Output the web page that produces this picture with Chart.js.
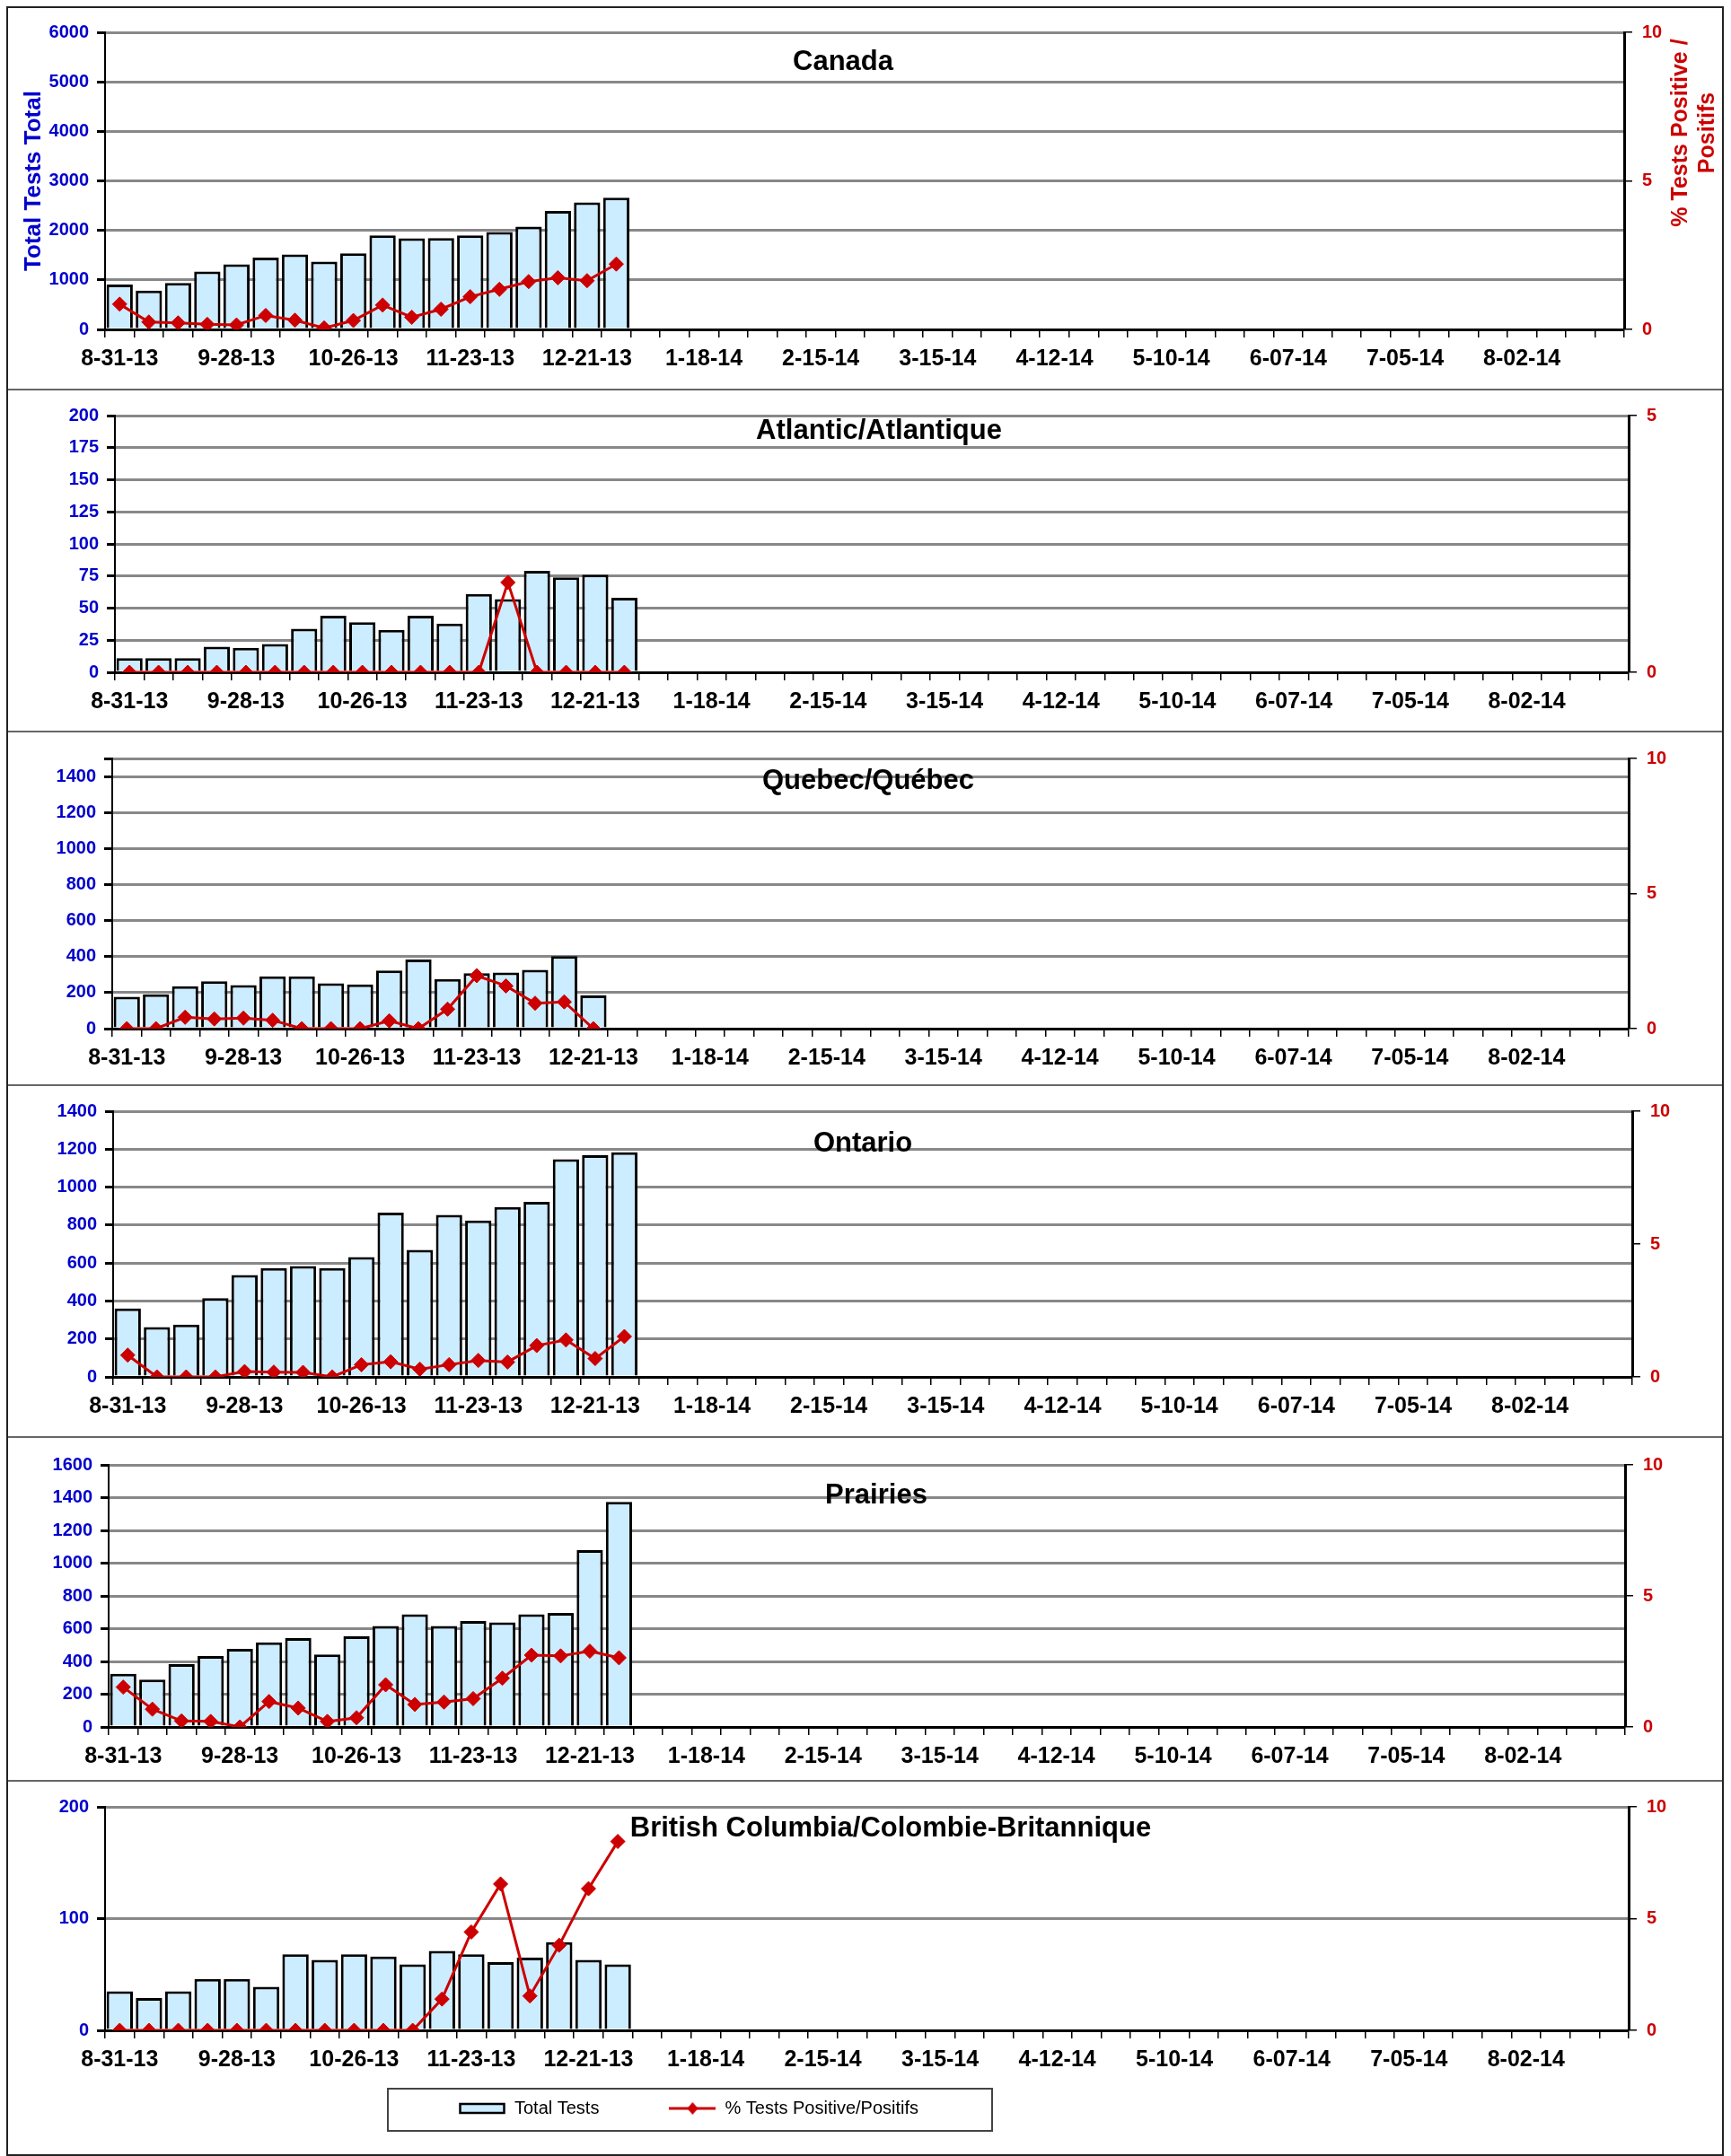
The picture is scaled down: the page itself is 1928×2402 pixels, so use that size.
<!DOCTYPE html>
<html>
<head>
<meta charset="utf-8">
<title>Total tests and % positive by region</title>
<script src="https://cdn.jsdelivr.net/npm/chart.js"></script>
<style>
body { margin: 0; background: #fff; }
#page { position: relative; width: 1928px; height: 2402px; overflow: hidden; }
#page canvas { position: absolute; }
.frame { position: absolute; left: 7px; top: 7px; width: 1909px; height: 2391px; border: 2px solid #222; }
.sep { position: absolute; left: 9px; width: 1909px; height: 0; border-top: 2px solid #666; }
#legendBox { position: absolute; left: 431px; top: 2326px; width: 671px; height: 45px; border: 2px solid #444; }
</style>
</head>
<body>
<div id="page">
	<div class="frame"></div>
	<div id="legendBox"></div>
</div>
<script>

// week ending dates (x categories)
var weeks = ["8-31-13", "9-07-13", "9-14-13", "9-21-13", "9-28-13", "10-05-13", "10-12-13", "10-19-13",
	"10-26-13", "11-02-13", "11-09-13", "11-16-13", "11-23-13", "11-30-13", "12-07-13", "12-14-13",
	"12-21-13", "12-28-13", "1-04-14", "1-11-14", "1-18-14", "1-25-14", "2-01-14", "2-08-14",
	"2-15-14", "2-22-14", "3-01-14", "3-08-14", "3-15-14", "3-22-14", "3-29-14", "4-05-14",
	"4-12-14", "4-19-14", "4-26-14", "5-03-14", "5-10-14", "5-17-14", "5-24-14", "5-31-14",
	"6-07-14", "6-14-14", "6-21-14", "6-28-14", "7-05-14", "7-12-14", "7-19-14", "7-26-14",
	"8-02-14", "8-09-14", "8-16-14", "8-23-14"];

var canadaTotal = [905, 785, 940, 1170, 1315, 1450, 1515, 1370, 1535, 1900, 1840, 1845, 1900, 1965, 2075, 2395, 2565, 2660];
var canadaPct = [0.85, 0.25, 0.22, 0.17, 0.15, 0.47, 0.31, 0.05, 0.30, 0.82, 0.41, 0.68, 1.10, 1.35, 1.61, 1.74, 1.64, 2.20];

var atlanticTotal = [11, 11, 11, 20, 19, 22, 34, 44, 39, 33, 44, 38, 61, 57, 79, 74, 76, 58];
var atlanticPct = [0, 0, 0, 0, 0, 0, 0, 0, 0, 0, 0, 0, 0, 1.75, 0, 0, 0, 0];

var quebecTotal = [177, 190, 235, 263, 242, 290, 290, 252, 245, 323, 384, 275, 308, 311, 326, 403, 184];
var quebecPct = [0, 0, 0.42, 0.36, 0.39, 0.31, 0, 0, 0, 0.29, 0, 0.72, 1.96, 1.58, 0.94, 0.99, 0];

var ontarioTotal = [361, 262, 275, 415, 537, 574, 584, 573, 631, 866, 669, 854, 824, 895, 922, 1147, 1168, 1184];
var ontarioPct = [0.82, 0, 0, 0, 0.20, 0.18, 0.17, 0, 0.46, 0.57, 0.29, 0.46, 0.62, 0.56, 1.18, 1.39, 0.69, 1.52];

var prairiesTotal = [325, 289, 384, 433, 477, 517, 542, 442, 553, 616, 687, 616, 647, 639, 687, 696, 1079, 1374];
var prairiesPct = [1.52, 0.68, 0.23, 0.21, 0, 0.97, 0.72, 0.21, 0.35, 1.61, 0.86, 0.95, 1.08, 1.86, 2.74, 2.71, 2.89, 2.64];

var bcTotal = [35, 29, 35, 46, 46, 39, 68, 63, 68, 66, 59, 71, 68, 61, 65, 79, 63, 59];
var bcPct = [0, 0, 0, 0, 0, 0, 0, 0, 0, 0, 0, 1.40, 4.40, 6.55, 1.54, 3.81, 6.34, 8.45];

var barLabel = "Total Tests";
var lineLabel = "% Tests Positive/Positifs";

var BLUE = "#0000CC";
var RED = "#CC0000";
var BAR_FILL = "#CCECFF";
var FONT = '"Liberation Sans", Arial, sans-serif';

Chart.defaults.font.family = FONT;

// panel layout (page pixels)
var panels = [
	{ title: "Canada", total: canadaTotal, pct: canadaPct, leftMax: 6000, leftStep: 1000, rightMax: 10,
		top: 7, bottom: 434, plotTop: 36, plotBottom: 367, plotLeft: 117, plotRight: 1809, titleX: 939, titleY: 69,
		leftTitle: "Total Tests Total", rightTitle: ["% Tests Positive /", "Positifs"] },
	{ title: "Atlantic/Atlantique", total: atlanticTotal, pct: atlanticPct, leftMax: 200, leftStep: 25, rightMax: 5,
		top: 434, bottom: 815, plotTop: 463, plotBottom: 749, plotLeft: 128, plotRight: 1814, titleX: 979, titleY: 480 },
	{ title: "Quebec/Québec", total: quebecTotal, pct: quebecPct, leftMax: 1500, leftStep: 200, rightMax: 10,
		top: 815, bottom: 1209, plotTop: 845, plotBottom: 1146, plotLeft: 125, plotRight: 1814, titleX: 967, titleY: 870 },
	{ title: "Ontario", total: ontarioTotal, pct: ontarioPct, leftMax: 1400, leftStep: 200, rightMax: 10,
		top: 1209, bottom: 1601, plotTop: 1238, plotBottom: 1534, plotLeft: 126, plotRight: 1818, titleX: 961, titleY: 1274 },
	{ title: "Prairies", total: prairiesTotal, pct: prairiesPct, leftMax: 1600, leftStep: 200, rightMax: 10,
		top: 1601, bottom: 1984, plotTop: 1632, plotBottom: 1924, plotLeft: 121, plotRight: 1810, titleX: 976, titleY: 1666 },
	{ title: "British Columbia/Colombie-Britannique", total: bcTotal, pct: bcPct, leftMax: 200, leftStep: 100, rightMax: 10,
		top: 1984, bottom: 2402, plotTop: 2013, plotBottom: 2262, plotLeft: 117, plotRight: 1814, titleX: 992, titleY: 2037 }
];

var page = document.getElementById("page");

function addCanvas(left, top, w, h) {
	var c = document.createElement("canvas");
	c.width = w;
	c.height = h;
	c.style.left = left + "px";
	c.style.top = top + "px";
	c.style.width = w + "px";
	c.style.height = h + "px";
	page.appendChild(c);
	return c;
}

// panel title + the right hand axis title (reads bottom to top)
function textPlugin(p) {
	return {
		id: "panelText",
		afterDraw: function (chart) {
			var ctx = chart.ctx;
			ctx.save();
			ctx.fillStyle = "#000";
			ctx.font = "bold 31px " + FONT;
			ctx.textAlign = "center";
			ctx.textBaseline = "middle";
			ctx.fillText(p.title, p.titleX, p.titleY - p.top);
			if (p.rightTitle) {
				ctx.fillStyle = RED;
				ctx.font = "bold 25px " + FONT;
				ctx.translate(1872, 148 - p.top);
				ctx.rotate(-Math.PI / 2);
				ctx.fillText(p.rightTitle[0], 0, 0);
				ctx.fillText(p.rightTitle[1], 0, 30);
			}
			ctx.restore();
		}
	};
}

panels.forEach(function (p, n) {
	if (n > 0) {
		var sep = document.createElement("div");
		sep.className = "sep";
		sep.style.top = (p.top - 1) + "px";
		page.appendChild(sep);
	}

	var canvas = addCanvas(0, p.top, 1928, p.bottom - p.top);

	new Chart(canvas, {
		type: "bar",
		data: {
			labels: weeks,
			datasets: [{
					type: "line",
					label: lineLabel,
					data: p.pct,
					yAxisID: "y1",
					order: 0,
					borderColor: RED,
					backgroundColor: RED,
					borderWidth: 3,
					pointStyle: "rectRot",
					pointRadius: 8,
					pointBorderWidth: 1,
					tension: 0
				},
				{
					type: "bar",
					label: barLabel,
					data: p.total,
					yAxisID: "y",
					order: 1,
					backgroundColor: BAR_FILL,
					borderColor: "#000",
					borderWidth: 3,
					barPercentage: 0.9,
					categoryPercentage: 1
				}
			]
		},
		options: {
			responsive: false,
			animation: false,
			layout: { padding: { top: p.plotTop - p.top, left: 0, right: 0, bottom: 0 } },
			plugins: {
				legend: { display: false },
				tooltip: { enabled: false }
			},
			scales: {
				x: {
					offset: true,
					grid: { display: true, offset: true, drawOnChartArea: false, tickLength: 9, tickColor: "#000", lineWidth: 1.5 },
					border: { color: "#000", width: 2 },
					ticks: {
						autoSkip: false,
						maxRotation: 0,
						minRotation: 0,
						padding: 9,
						color: "#000",
						font: { size: 25, weight: "bold" },
						callback: function (v, i) {
							return i % 4 === 0 ? weeks[i] : "";
						}
					},
					afterFit: function (s) {
						s.height = p.bottom - p.plotBottom;
					}
				},
				y: {
					position: "left",
					min: 0,
					max: p.leftMax,
					ticks: {
						stepSize: p.leftStep,
						padding: 9,
						color: BLUE,
						font: { size: 20, weight: "bold" },
						callback: function (v) {
							return v % p.leftStep === 0 ? v : "";
						}
					},
					afterBuildTicks: function (s) {
						var t = [];
						for (var v = 0; v < p.leftMax; v += p.leftStep) t.push({ value: v });
						t.push({ value: p.leftMax });
						s.ticks = t;
					},
					grid: {
						tickLength: 9,
						tickColor: "#000",
						lineWidth: 3,
						color: function (c) {
							return c.tick && c.tick.value === 0 ? "#000" : "#888";
						}
					},
					border: { color: "#000", width: 2 },
					title: {
						display: !!p.leftTitle,
						text: p.leftTitle || "",
						color: BLUE,
						font: { size: 26, weight: "bold" },
						padding: { top: 22, bottom: 0 }
					},
					afterFit: function (s) {
						s.width = p.plotLeft;
					}
				},
				y1: {
					position: "right",
					min: 0,
					max: p.rightMax,
					ticks: {
						stepSize: 5,
						padding: 11,
						color: RED,
						font: { size: 20, weight: "bold" }
					},
					grid: { drawOnChartArea: false, tickLength: 9, tickColor: "#000", lineWidth: 1.5 },
					border: { color: "#000", width: 3 },
					afterFit: function (s) {
						s.width = 1928 - p.plotRight;
					}
				}
			}
		},
		plugins: [textPlugin(p)]
	});
});

// legend swatches
function swatch(kind) {
	var c = document.createElement("canvas");
	c.width = 52;
	c.height = 18;
	var g = c.getContext("2d");
	if (kind === "bar") {
		g.fillStyle = BAR_FILL;
		g.fillRect(1, 4, 50, 10);
		g.strokeStyle = "#000";
		g.lineWidth = 2.5;
		g.strokeRect(1.5, 4, 49, 10);
	} else {
		g.strokeStyle = RED;
		g.lineWidth = 3;
		g.beginPath();
		g.moveTo(0, 9);
		g.lineTo(52, 9);
		g.stroke();
		g.fillStyle = RED;
		g.beginPath();
		g.moveTo(26, 2);
		g.lineTo(32, 9);
		g.lineTo(26, 16);
		g.lineTo(20, 9);
		g.closePath();
		g.fill();
	}
	return c;
}

var swatches = [swatch("bar"), swatch("line")];
// tall canvas so the legend box (78px item padding) is not clipped; only its top shows on the page
var legendCanvas = addCanvas(317, 2261, 900, 320);

new Chart(legendCanvas, {
	type: "bar",
	data: {
		labels: [""],
		datasets: [
			{ type: "bar", label: barLabel, data: [null], backgroundColor: BAR_FILL, borderColor: "#000", borderWidth: 2 },
			{ type: "line", label: lineLabel, data: [null], backgroundColor: RED, borderColor: RED, borderWidth: 3 }
		]
	},
	options: {
		responsive: false,
		animation: false,
		scales: { x: { display: false }, y: { display: false } },
		plugins: {
			tooltip: { enabled: false },
			legend: {
				display: true,
				position: "top",
				labels: {
					usePointStyle: true,
					pointStyleWidth: 52,
					padding: 78,
					color: "#000",
					font: { size: 20 },
					generateLabels: function (chart) {
						var items = Chart.defaults.plugins.legend.labels.generateLabels(chart);
						items.forEach(function (it, i) {
							it.pointStyle = swatches[i];
						});
						return items;
					}
				}
			}
		}
	}
});

</script>
</body>
</html>
